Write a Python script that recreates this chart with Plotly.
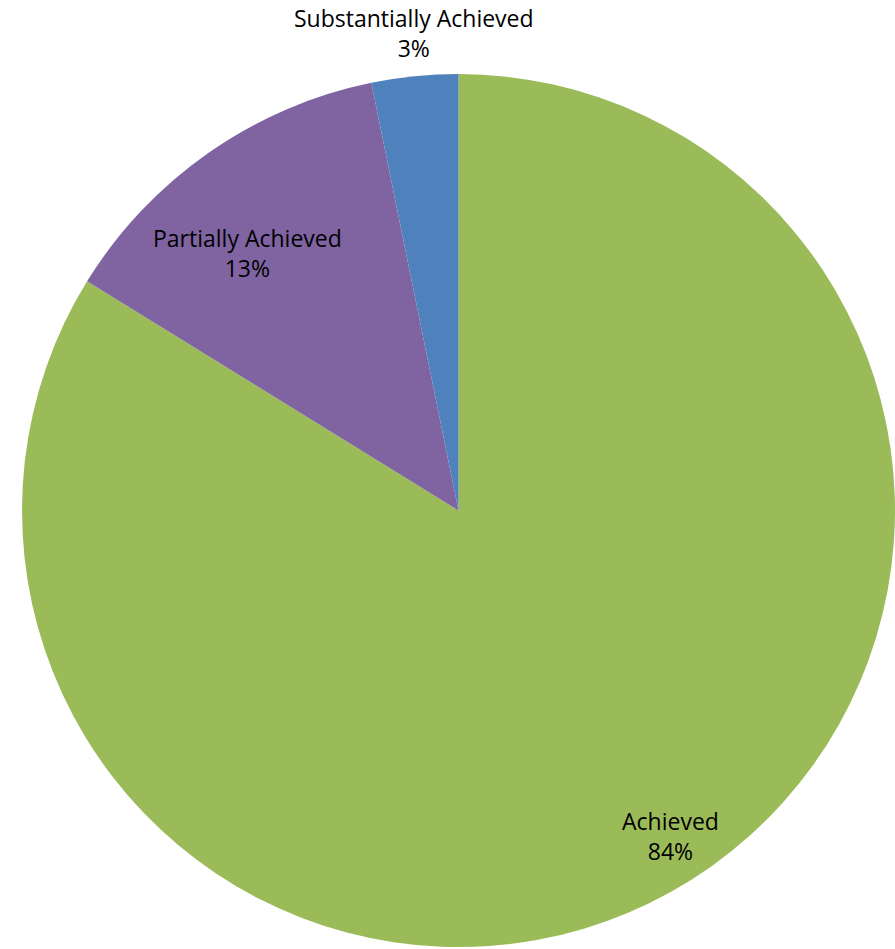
import plotly.graph_objects as go

labels = ["Achieved", "Partially Achieved", "Substantially Achieved"]
values = [83.8, 13.0, 3.2]
colors = ["#9BBB59", "#8064A2", "#4F81BD"]

# label anchor spots (paper coords)
label_x = [670 / 895, 247 / 895, 414 / 895]
label_y = [1 - 836 / 949, 1 - 253 / 949, 1 - 33 / 949]

total = sum(values)

fig = go.Figure()
fig.add_trace(go.Pie(
    labels=labels,
    values=values,
    sort=False,
    direction="clockwise",
    rotation=0,
    marker=dict(colors=colors, line=dict(width=0)),
    textinfo="none",
    hoverinfo="label+percent",
    showlegend=False,
    domain=dict(x=[0.0246, 1.0], y=[0.0, 0.924]),
))

for lab, v, x, y in zip(labels, values, label_x, label_y):
    fig.add_annotation(
        x=x, y=y, xref="paper", yref="paper",
        text=lab + "<br>" + str(round(v / total * 100)) + "%",
        showarrow=False,
        font=dict(family="Open Sans, Liberation Sans, sans-serif", size=23, color="#000000"),
        xanchor="center", yanchor="middle",
    )

fig.update_layout(
    width=895,
    height=949,
    margin=dict(l=0, r=0, t=0, b=0),
    paper_bgcolor="white",
    plot_bgcolor="white",
)

# drop the default body margin so the figure sits flush in the window
fig.write_html(
    "out.html",
    config={"displayModeBar": False},
    post_script="document.body.style.margin='0';document.body.style.overflow='hidden';",
)
